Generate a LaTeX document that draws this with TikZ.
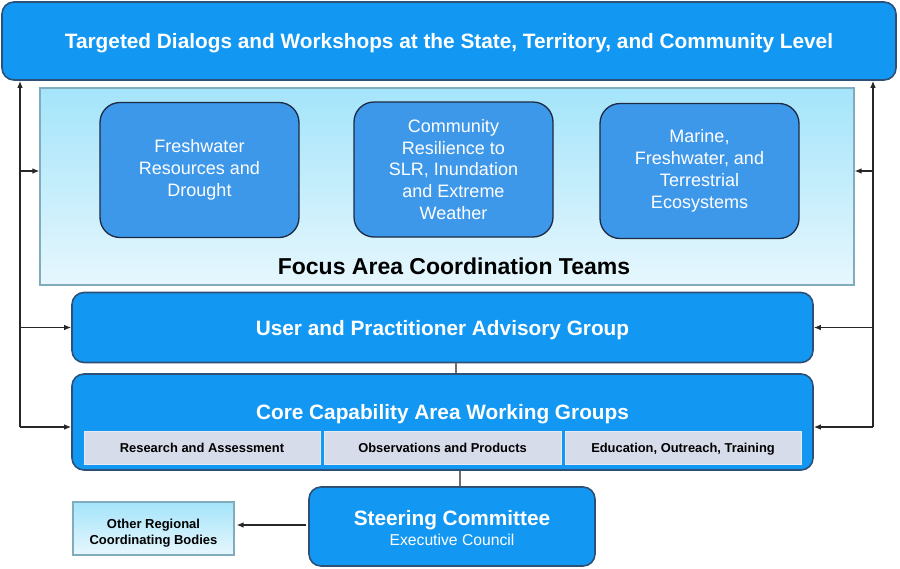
\documentclass[tikz,border=0pt]{standalone}
\usepackage{fontspec}
\setmainfont{Liberation Sans}
\usepackage{tikz}
\usetikzlibrary{positioning,arrows.meta,calc}

\definecolor{barblue}{RGB}{18,152,242}
\definecolor{barline}{RGB}{44,80,120}
\definecolor{teamblue}{RGB}{62,152,234}
\definecolor{teamline}{RGB}{28,42,66}
\definecolor{subgrey}{RGB}{214,220,234}
\definecolor{paletop}{RGB}{164,228,250}
\definecolor{palebot}{RGB}{230,247,253}
\definecolor{paleline}{RGB}{128,172,188}
\definecolor{linkgrey}{RGB}{110,110,110}

\tikzset{
  bar/.style={draw=barline, line width=1.6pt, fill=barblue, rounded corners=12pt,
    text=white, font=\fontsize{20.8}{25}\selectfont\bfseries, text height=15pt, text depth=0pt},
  bartext/.style={text=white, font=\fontsize{20.8}{25}\selectfont\bfseries, text height=15pt, text depth=0pt},
  team/.style={draw=teamline, line width=1.3pt, fill=teamblue, rounded corners=20pt,
    minimum width=199pt, minimum height=135pt, text=white, align=center,
    font=\fontsize{18}{21.8}\selectfont},
  sub/.style={fill=subgrey, draw=subgrey!60!white, line width=0.8pt,
    minimum width=236pt, minimum height=33pt, font=\fontsize{12.9}{15}\selectfont\bfseries,
    text height=9.3pt, text depth=0pt},
  pale/.style={draw=paleline, line width=1.1pt, top color=paletop, bottom color=palebot},
  arr/.style={-{Latex[length=7pt,width=5.5pt]}, line width=1.2pt, draw=black!85},
  link/.style={line width=1.2pt, draw=linkgrey}
}

\begin{document}
\begin{tikzpicture}[x=1pt, y=-1pt]
  \useasboundingbox (0,0) rectangle (900,568);

  \node[bar, minimum width=894pt, minimum height=78pt] (top) at (449,41)
    {Targeted Dialogs and Workshops at the State, Territory, and Community Level};

  \node[pale, minimum width=814pt, minimum height=197pt] (focus) at (447,186.5) {};
  \node[font=\fontsize{23}{27}\selectfont\bfseries] (focustitle) at (454,266)
    {Focus Area Coordination Teams};

  \node[team] (fw) at (199.5,170) {Freshwater\\Resources and\\Drought};
  \node[team] (cr) at (453.5,169.5) {Community\\Resilience to\\SLR, Inundation\\and Extreme\\Weather};
  \node[team] (me) at (699.5,171) {Marine,\\Freshwater, and\\Terrestrial\\Ecosystems};

  \node[bar, minimum width=741pt, minimum height=70pt] (upag) at (442.5,327.5)
    {User and Practitioner Advisory Group};

  \node[bar, minimum width=741pt, minimum height=96pt] (core) at (442.5,422) {};
  \node[bartext] (coretitle) at (442.5,411.5) {Core Capability Area Working Groups};
  \node[sub] (ra) at (202,448) {Research and Assessment};
  \node[sub, minimum width=237pt] (op) at (442.5,448) {Observations and Products};
  \node[sub] (eo) at (683,448) {Education, Outreach, Training};

  \node[bar, minimum width=286pt, minimum height=79pt] (steer) at (452,526.5) {};
  \node[bartext] (steertitle) at (452,518) {Steering Committee};
  \node[text=white, font=\fontsize{15.7}{18}\selectfont, text height=11.2pt, text depth=0pt]
    (steersub) at (452,540) {Executive Council};

  \node[pale, minimum width=161pt, minimum height=53pt] (other) at (153.5,528.5) {};
  \node[align=center, font=\fontsize{13}{16.5}\selectfont\bfseries] (othertext) at (153.5,533)
    {Other Regional\\Coordinating Bodies};

  \draw[link] (upag.south -| 456,0) -- (core.north -| 456,0);
  \draw[link] (core.south -| 460,0) -- (steer.north -| 460,0);
  \draw[arr, shorten <=2pt, shorten >=2pt] (steer.west |- 0,525) -- (other.east |- 0,525);

  \coordinate (lrail) at (20,427);
  \coordinate (rrail) at (873,427);
  \draw[arr] (lrail) -- (lrail |- top.south);
  \draw[arr] (lrail) -- (lrail -| core.west);
  \draw[arr] (lrail |- upag.west) -- (upag.west);
  \draw[arr] (lrail |- 0,171) -- (focus.west |- 0,171);
  \draw[arr] (rrail) -- (rrail |- top.south);
  \draw[arr] (rrail) -- (rrail -| core.east);
  \draw[arr] (rrail |- upag.east) -- (upag.east);
  \draw[arr] (rrail |- 0,171) -- (focus.east |- 0,171);
\end{tikzpicture}
\end{document}
